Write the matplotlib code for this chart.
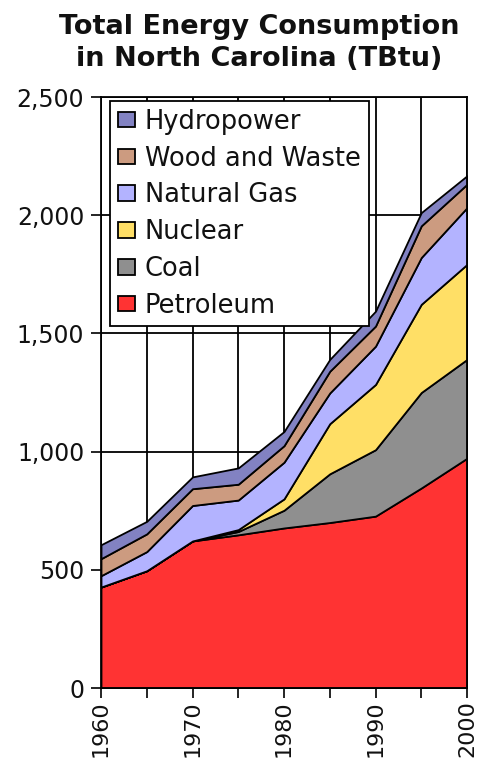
import matplotlib
matplotlib.use("Agg")
import matplotlib.pyplot as plt
from matplotlib.ticker import FuncFormatter

# Consumption by source, TBtu
years = [1960, 1965, 1970, 1975, 1980, 1985, 1990, 1995, 2000]
petroleum = [427, 496, 622, 648, 677, 700, 727, 846, 972]
coal = [0, 0, 0, 14, 75, 206, 281, 404, 418]
nuclear = [0, 0, 0, 8, 48, 212, 276, 373, 402]
natural_gas = [48, 81, 150, 125, 155, 130, 162, 198, 240]
wood_waste = [72, 75, 71, 67, 70, 92, 85, 134, 99]
hydropower = [59, 53, 50, 69, 60, 50, 63, 56, 36]

series_names = ["Petroleum", "Coal", "Nuclear", "Natural Gas", "Wood and Waste", "Hydropower"]
colors = ["#FF3333", "#8F8F8F", "#FFDF66", "#B3B3FF", "#CC9B80", "#8282C2"]
decade_labels = ["1960", "", "1970", "", "1980", "", "1990", "", "2000"]
y_ticks = [0, 500, 1000, 1500, 2000, 2500]

plt.rcParams["font.family"] = ["DejaVu Sans"]

fig = plt.figure(figsize=(4.78, 7.61), dpi=100)
ax = fig.add_axes([101 / 478, 73 / 761, 366 / 478, 591 / 761])

polys = ax.stackplot(years, petroleum, coal, nuclear, natural_gas, wood_waste, hydropower,
                     colors=colors, labels=series_names,
                     edgecolor="black", linewidth=1.3)

ax.set_xlim(years[0], years[-1])
ax.set_ylim(0, 2500)
ax.set_xticks(years)
ax.set_xticklabels(decade_labels, rotation=90, fontsize=16)
ax.set_yticks(y_ticks)
ax.yaxis.set_major_formatter(FuncFormatter(lambda v, p: f"{int(v):,}"))
ax.tick_params(axis="y", labelsize=17, length=7, width=1.2, pad=5, color="black")
ax.tick_params(axis="x", length=7, width=1.2, pad=2, color="black")
for lab in ax.get_yticklabels() + ax.get_xticklabels():
    lab.set_color("#111111")

ax.set_axisbelow(True)
ax.grid(True, color="black", linewidth=1.3)
for sp in ax.spines.values():
    sp.set_color("black")
    sp.set_linewidth(1.3)

# Legend listed top-down in reverse stacking order
handles, labels = ax.get_legend_handles_labels()
leg = ax.legend(handles[::-1], labels[::-1], loc="upper left",
                bbox_to_anchor=(9 / 366, 587 / 591), borderaxespad=0,
                fontsize=18.5, frameon=True, fancybox=False,
                handlelength=0.66, handleheight=0.56, handletextpad=0.4,
                labelspacing=0.42, borderpad=0.3, framealpha=1)
leg.get_frame().set_edgecolor("black")
leg.get_frame().set_linewidth(1.3)
for t in leg.get_texts():
    t.set_color("#111111")

fig.text(0.542, 1 - 34 / 761, "Total Energy Consumption", ha="center", va="baseline",
         fontsize=19.5, fontweight="bold", color="#111111")
fig.text(0.542, 1 - 66 / 761, "in North Carolina (TBtu)", ha="center", va="baseline",
         fontsize=19.5, fontweight="bold", color="#111111")

fig.savefig("out.png", dpi=100)
